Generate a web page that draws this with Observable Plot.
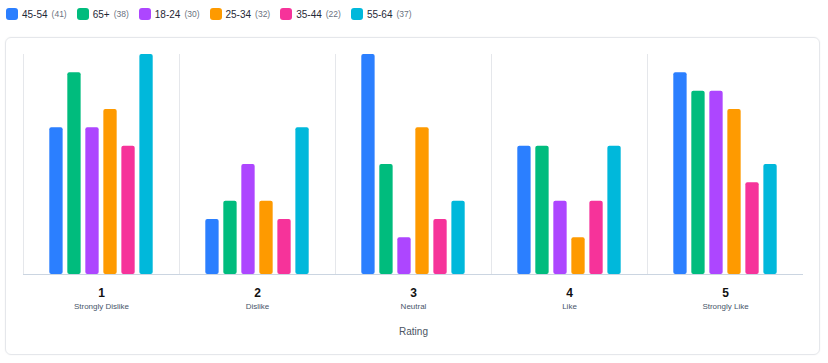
<!DOCTYPE html>
<html>
<head>
<meta charset="utf-8">
<script src="https://cdn.jsdelivr.net/npm/d3@7"></script>
<script src="https://cdn.jsdelivr.net/npm/@observablehq/plot@0.6"></script>
<style>
  html, body { margin: 0; padding: 0; background: #fff; }
  body { width: 828px; height: 363px; position: relative; overflow: hidden; font-family: "Liberation Sans", Arial, sans-serif; }
  #legend { position: absolute; left: 6px; top: 8px; display: flex; align-items: center; gap: 0; }
  .item { display: flex; align-items: center; margin-right: 10px; }
  .sw { width: 12px; height: 12px; border-radius: 3px; margin-right: 4px; }
  .lab { font-size: 10px; color: #1f2937; }
  .cnt { font-size: 8.5px; color: #6b7280; margin-left: 4px; }
  #card { position: absolute; left: 5px; top: 37px; width: 813px; height: 316px; border: 1px solid #e5e7eb; border-radius: 6px; box-shadow: 0 0 2px rgba(0,0,0,0.05); }
  #chart { position: absolute; left: 0; top: 0; }
</style>
</head>
<body>
<div id="legend"></div>
<div id="card"></div>
<div id="chart"></div>
<script>
const ratings = [1, 2, 3, 4, 5];
const ratingNames = ["Strongly Dislike", "Dislike", "Neutral", "Like", "Strongly Like"];
const groups = ["45-54", "65+", "18-24", "25-34", "35-44", "55-64"];
const groupTotals = [41, 38, 30, 32, 22, 37];
const colors = ["#2b7fff", "#00bc7d", "#ad46ff", "#fe9a00", "#f6339a", "#00b8db"];
// counts[group][rating]
const v4554 = [8, 3, 12, 7, 11];
const v65 = [11, 4, 6, 7, 10];
const v1824 = [8, 6, 2, 4, 10];
const v2534 = [9, 4, 8, 2, 9];
const v3544 = [7, 3, 3, 4, 5];
const v5564 = [12, 8, 4, 7, 6];
const series = [v4554, v65, v1824, v2534, v3544, v5564];

const data = [];
ratings.forEach((r, i) => {
  groups.forEach((g, j) => data.push({rating: r, group: g, count: series[j][i]}));
});

// legend
const legend = document.getElementById("legend");
groups.forEach((g, j) => {
  const it = document.createElement("div");
  it.className = "item";
  it.innerHTML = `<div class="sw" style="background:${colors[j]}"></div><span class="lab">${g}</span><span class="cnt">(${groupTotals[j]})</span>`;
  legend.appendChild(it);
});

const nameOf = d => ratingNames[ratings.indexOf(d)];

const chart = Plot.plot({
  width: 828,
  height: 363,
  marginLeft: 23,
  marginRight: 25,
  marginTop: 54,
  marginBottom: 89,
  style: {fontFamily: "Liberation Sans, Arial, sans-serif", background: "transparent"},
  fx: {domain: ratings, padding: 0, label: null, round: false},
  x: {domain: groups, axis: null, paddingInner: 0.26, paddingOuter: 1.46, round: false},
  y: {domain: [0, 12], axis: null},
  color: {domain: groups, range: colors},
  marks: [
    Plot.frame({anchor: "left", stroke: "#e5e7eb"}),
    Plot.barY(data, {fx: "rating", x: "group", y: "count", fill: "group", rx: 2}),
    Plot.ruleY([0], {stroke: "#cbd5e1", strokeWidth: 1}),
    Plot.axisFx({anchor: "bottom", tickSize: 0, tickPadding: 14, fontSize: 12, fontWeight: "bold", fill: "#111", label: null}),
    Plot.axisFx({anchor: "bottom", tickSize: 0, tickPadding: 29, fontSize: 8, fill: "#475569", tickFormat: nameOf, label: null}),
    Plot.axisFx({anchor: "bottom", tickSize: 0, tickFormat: () => "", fontSize: 10, fill: "#4b5563",
      label: "Rating", labelAnchor: "center", labelArrow: "none", labelOffset: 60})
  ]
});
document.getElementById("chart").appendChild(chart);
</script>
</body>
</html>
